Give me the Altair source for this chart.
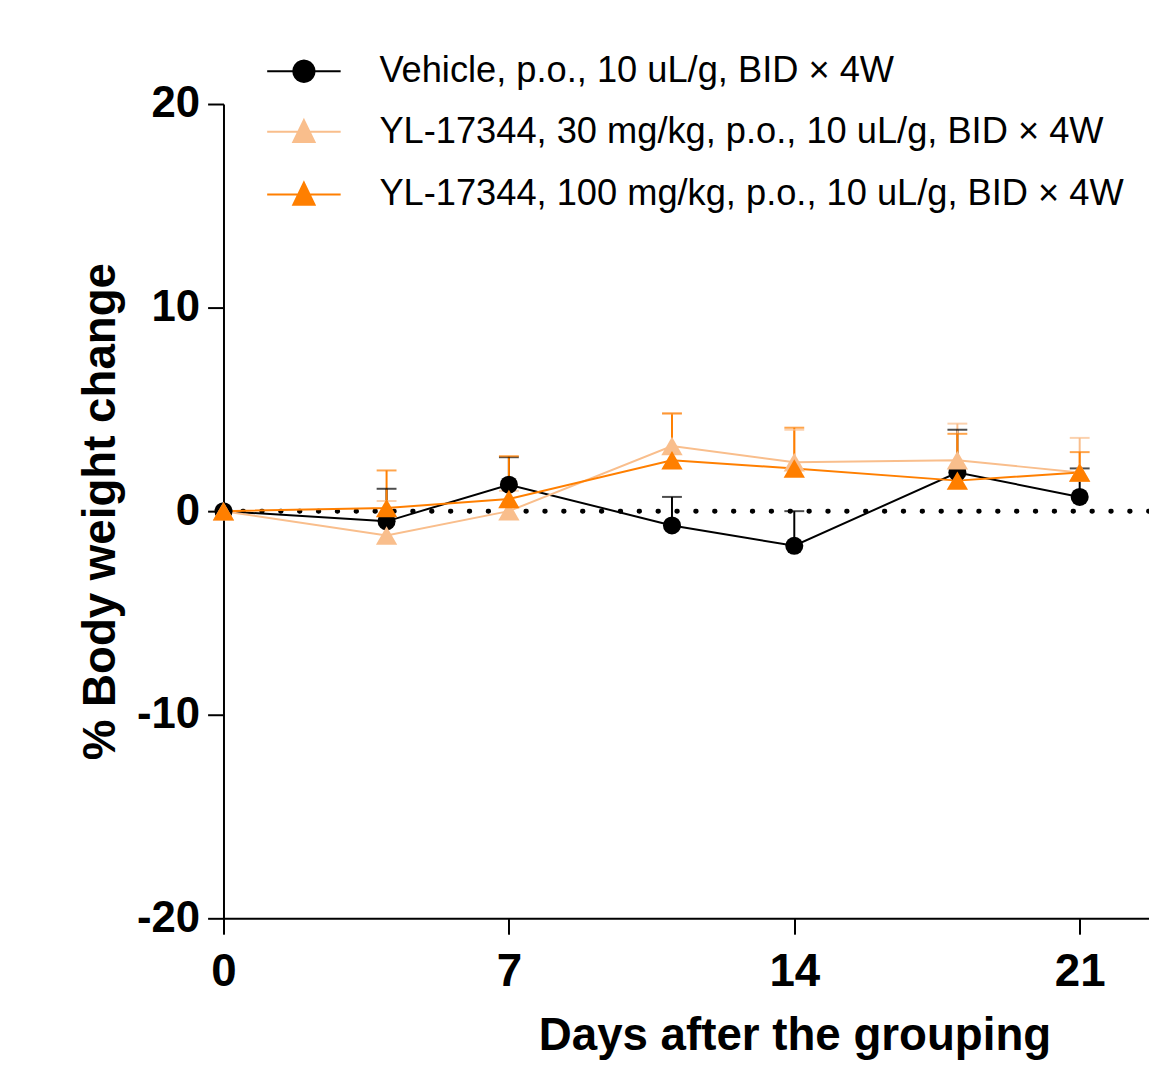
import math
import altair as alt
import pandas as pd

# ---- data ----
days = [0, 4, 7, 11, 14, 18, 21]
series_names = [
    "Vehicle, p.o., 10 uL/g, BID × 4W",
    "YL-17344, 30 mg/kg, p.o., 10 uL/g, BID × 4W",
    "YL-17344, 100 mg/kg, p.o., 10 uL/g, BID × 4W",
]
vehicle_mean = [0, -0.5, 1.3, -0.7, -1.7, 1.9, 0.7]
vehicle_upper = [0, 1.1, 2.65, 0.7, 0.0, 4.0, 2.1]
low_mean = [0, -1.2, 0.0, 3.2, 2.4, 2.5, 1.9]
low_upper = [0, 0.5, 1.0, 4.8, 4.0, 4.3, 3.6]
high_mean = [0, 0.15, 0.6, 2.5, 2.1, 1.5, 1.9]
high_upper = [0, 2.0, 2.7, 4.8, 4.1, 3.8, 2.9]

colors = ["#000000", "#F9BE8C", "#FF7F00"]
y_ticks = [-20, -10, 0, 10, 20]
x_ticks = [0, 7, 14, 21]

rows = []
for name, means, uppers in zip(series_names,
                               [vehicle_mean, low_mean, high_mean],
                               [vehicle_upper, low_upper, high_upper]):
    for d, m, u in zip(days, means, uppers):
        rows.append({"series": name, "day": d, "mean": m, "upper": u})
df = pd.DataFrame(rows)
err_df = df[df["upper"] > df["mean"]]
zero_df = pd.DataFrame({"y": [0]})
legend_df = pd.DataFrame({"series": series_names})

FONT = "Liberation Sans"

x_scale = alt.Scale(domain=[0, 22.7], nice=False, zero=False)
y_scale = alt.Scale(domain=[-20, 20], nice=False)
x_enc = alt.X("day:Q", scale=x_scale,
              axis=alt.Axis(values=x_ticks, title="Days after the grouping",
                            titleX=575, titleAnchor="middle", labelFlush=False))
y_enc = alt.Y("mean:Q", scale=y_scale,
              axis=alt.Axis(values=y_ticks, title="% Body weight change",
                            labelExpr="'' + datum.value"))
color_enc = alt.Color("series:N",
                      scale=alt.Scale(domain=series_names, range=colors),
                      legend=None)

zero_line = alt.Chart(zero_df).mark_rule(
    color="black", strokeWidth=5, strokeDash=[0.5, 18.5], strokeCap="round"
).encode(y=alt.Y("y:Q", scale=y_scale))

err_rule = alt.Chart(err_df).mark_rule(strokeWidth=2).encode(
    x=x_enc, y=y_enc, y2="upper:Q", color=color_enc)

err_cap = alt.Chart(err_df).mark_tick(orient="horizontal", size=20, thickness=2).encode(
    x=x_enc, y=alt.Y("upper:Q"), color=color_enc)

lines = alt.Chart(df).mark_line(strokeWidth=2).encode(
    x=x_enc, y=y_enc, color=color_enc, order="day:Q")

circles = alt.Chart(df).transform_filter(
    alt.datum.series == series_names[0]
).mark_point(shape="circle", filled=True, size=330, opacity=1).encode(
    x=x_enc, y=y_enc, color=color_enc)

triangles = alt.Chart(df).transform_filter(
    alt.datum.series != series_names[0]
).mark_point(shape="triangle-up", filled=True, size=460, opacity=1).encode(
    x=x_enc, y=y_enc, color=color_enc)


# legend symbols: a horizontal line with the marker in the middle; the marker is
# drawn as nested outlines so that it looks solid with a stroked symbol
def ring(r, n=20):
    pts = [(r * math.cos(2 * math.pi * k / n), r * math.sin(2 * math.pi * k / n))
           for k in range(n)]
    return "M" + " L".join(f"{x:.3f},{y:.3f}" for x, y in pts) + " Z"


def tri(s):
    return f"M0,{-0.32 * s:.3f} L{0.29 * s:.3f},{0.28 * s:.3f} L{-0.29 * s:.3f},{0.28 * s:.3f} Z"


scales_in = [1.0, 0.85, 0.7, 0.55, 0.4, 0.25, 0.1]
circle_path = "M-1,0 L1,0 " + " ".join(ring(0.29 * s) for s in scales_in)
tri_path = "M-1,0 L1,0 " + " ".join(tri(s) for s in scales_in)
symbol_paths = [circle_path, tri_path, tri_path]
legend_offsets = [-71, -10, 53]

# one single-entry legend per series (independent colour scales)
legend_layers = []
for name, col, path, ly in zip(series_names, colors, symbol_paths, legend_offsets):
    legend_layers.append(
        alt.Chart(legend_df).transform_filter("false").mark_point(
            filled=False, shape=path, size=5476, opacity=1, strokeWidth=2
        ).encode(
            color=alt.Color(
                "series:N", scale=alt.Scale(domain=[name], range=[col]),
                legend=alt.Legend(
                    title=None, orient="none", legendX=43, legendY=ly,
                    labelFont=FONT, labelFontSize=36.5, labelColor="black",
                    symbolSize=5476, symbolStrokeWidth=2,
                    labelOffset=38, padding=0, labelLimit=1000,
                ),
            ),
        )
    )

chart = alt.layer(
    zero_line, err_rule, err_cap, lines, circles, triangles, *legend_layers
).resolve_scale(color="independent").properties(
    width=932, height=820,
    autosize=alt.AutoSizeParams(type="none"),
    padding={"left": 217, "top": 93, "right": 0, "bottom": 140},
).configure_view(stroke=None).configure_axis(
    domainColor="black", domainWidth=2, tickColor="black", tickWidth=2,
    tickSize=16, grid=False, labelFont=FONT, labelFontWeight="bold",
    labelColor="black", titleFont=FONT, titleFontWeight="bold",
    titleColor="black", titleFontSize=46,
).configure_axisY(
    labelFontSize=44, labelPadding=8, titlePadding=12,
).configure_axisX(
    labelFontSize=46, labelPadding=16, titlePadding=19,
)

chart.save("out.html", embed_options={"renderer": "svg", "actions": False})
